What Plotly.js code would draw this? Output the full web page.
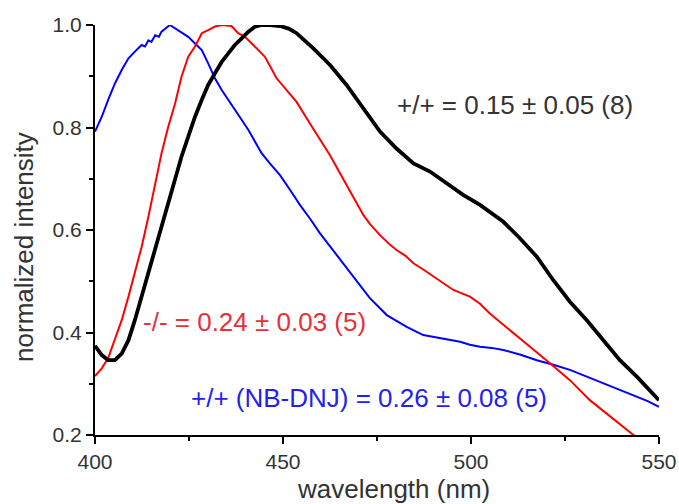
<!DOCTYPE html>
<html>
<head>
<meta charset="utf-8">
<script src="https://cdn.plot.ly/plotly-3.0.1.min.js"></script>
<style>html,body{margin:0;padding:0;background:#fff;}#chart{width:679px;height:504px;}</style>
</head>
<body>
<div id="chart"></div>
<script>
// +/+ (black)
const wtX = [400, 401.8, 403.5, 405.3, 407.1, 408.9, 410.6, 412.4, 414.2, 416, 417.7, 419.5, 421.3, 423, 424.8, 426.6, 428.4, 430.1, 431.9, 433.7, 435.5, 437.2, 439, 440.8, 442.6, 444.3, 446.5, 449.2, 451.5, 453.6, 458, 462.5, 466.9, 471.4, 475.8, 480.2, 484.7, 489.1, 493.5, 498, 502.4, 504.2, 508.6, 513, 517.5, 521.9, 526.3, 530.8, 535.2, 539.6, 544.1, 550];
const wtY = [0.374, 0.356, 0.346, 0.346, 0.359, 0.385, 0.424, 0.470, 0.515, 0.561, 0.606, 0.652, 0.698, 0.743, 0.782, 0.821, 0.854, 0.883, 0.906, 0.928, 0.945, 0.961, 0.974, 0.987, 0.997, 1.0, 1.0, 0.998, 0.993, 0.984, 0.955, 0.922, 0.883, 0.837, 0.792, 0.759, 0.730, 0.714, 0.691, 0.668, 0.649, 0.639, 0.616, 0.584, 0.548, 0.502, 0.460, 0.424, 0.385, 0.346, 0.314, 0.268];

// -/- (red)
const koX = [400, 401.8, 403.5, 405.3, 407.1, 408.9, 410.6, 412.4, 414.2, 416, 417.7, 419.5, 421.3, 423, 424.8, 426.6, 428.4, 430.1, 431.9, 433.7, 436.3, 438.1, 439.9, 441.7, 443.4, 445.2, 448.3, 451, 453.6, 458, 462.5, 466.9, 471.4, 473.1, 475.8, 478.5, 480.2, 482.5, 484.7, 487.5, 490, 492.5, 495.3, 499.7, 502.4, 505, 510.4, 515.7, 521, 526.3, 531.6, 537, 543.2, 545];
const koY = [0.315, 0.330, 0.350, 0.385, 0.424, 0.470, 0.515, 0.567, 0.626, 0.691, 0.750, 0.802, 0.847, 0.899, 0.938, 0.958, 0.984, 0.990, 0.997, 1.0, 0.998, 0.984, 0.977, 0.964, 0.951, 0.938, 0.896, 0.872, 0.850, 0.798, 0.746, 0.688, 0.629, 0.612, 0.590, 0.571, 0.561, 0.550, 0.535, 0.522, 0.509, 0.497, 0.483, 0.470, 0.456, 0.437, 0.405, 0.372, 0.340, 0.307, 0.268, 0.236, 0.200, 0.192];

// +/+ (NB-DNJ) (blue)
const nbX = [400, 401.8, 403.5, 405.3, 407.1, 408.9, 410.6, 412.4, 413.3, 414.2, 415, 416, 417, 417.7, 419.9, 422.2, 424.8, 426.6, 428.4, 430.1, 431.9, 433.7, 435.5, 437.2, 439, 440.8, 442.6, 444.3, 446.5, 449.2, 451.9, 454.5, 457.2, 459.8, 464.3, 468.7, 473.1, 477.6, 482.9, 487.3, 491.8, 494.5, 497.1, 499.7, 502.4, 505.5, 508.6, 513, 517.5, 521.9, 526.3, 530.8, 535.2, 539.6, 544.1, 547, 550];
const nbY = [0.792, 0.821, 0.854, 0.886, 0.912, 0.935, 0.948, 0.961, 0.958, 0.970, 0.967, 0.980, 0.977, 0.987, 1.0, 0.990, 0.977, 0.964, 0.951, 0.925, 0.896, 0.873, 0.854, 0.834, 0.815, 0.795, 0.772, 0.750, 0.730, 0.707, 0.678, 0.649, 0.622, 0.594, 0.551, 0.508, 0.467, 0.434, 0.411, 0.395, 0.389, 0.386, 0.382, 0.376, 0.372, 0.370, 0.366, 0.357, 0.346, 0.337, 0.327, 0.314, 0.301, 0.288, 0.275, 0.266, 0.255];

const labels = ['+/+ = 0.15 ± 0.05 (8)', '-/- = 0.24 ± 0.03 (5)', '+/+ (NB-DNJ) = 0.26 ± 0.08 (5)'];
const xTitle = 'wavelength (nm)';
const yTitle = 'normalized intensity';

const font = 'Liberation Sans, Arial, sans-serif';

const traces = [
  {x: nbX, y: nbY, mode: 'lines', line: {color: '#0000ff', width: 2}, hoverinfo: 'skip'},
  {x: koX, y: koY, mode: 'lines', line: {color: '#ff0000', width: 2}, hoverinfo: 'skip'},
  {x: wtX, y: wtY, mode: 'lines', line: {color: '#000000', width: 3.8}, hoverinfo: 'skip'}
];

const layout = {
  width: 679, height: 504,
  margin: {l: 95, r: 20, t: 25, b: 69},
  paper_bgcolor: '#ffffff', plot_bgcolor: '#ffffff',
  showlegend: false,
  font: {family: font, color: '#333333', size: 21},
  xaxis: {
    range: [400, 550], dtick: 50, tick0: 400,
    showgrid: false, zeroline: false,
    showline: true, linecolor: '#000', linewidth: 2,
    ticks: 'outside', ticklen: 7, tickwidth: 2, tickcolor: '#000',
    minor: {dtick: 25, ticks: 'outside', ticklen: 4, tickwidth: 2, tickcolor: '#000', showgrid: false},
    tickfont: {family: font, size: 21, color: '#333'}
  },
  yaxis: {
    range: [0.2, 1.0], dtick: 0.2, tick0: 0.2, tickformat: '.1f',
    showgrid: false, zeroline: false,
    showline: true, linecolor: '#000', linewidth: 2,
    ticks: 'outside', ticklen: 7, tickwidth: 2, tickcolor: '#000',
    minor: {dtick: 0.1, ticks: 'outside', ticklen: 4, tickwidth: 2, tickcolor: '#000', showgrid: false},
    tickfont: {family: font, size: 21, color: '#333'}
  },
  annotations: [
    {x: 479.8, y: 0.844, xref: 'x', yref: 'y', text: labels[0], showarrow: false, xanchor: 'left', yanchor: 'middle', font: {family: font, size: 26, color: '#333333'}},
    {x: 412.2, y: 0.421, xref: 'x', yref: 'y', text: labels[1], showarrow: false, xanchor: 'left', yanchor: 'middle', font: {family: font, size: 26, color: '#e8303a'}},
    {x: 425.1, y: 0.273, xref: 'x', yref: 'y', text: labels[2], showarrow: false, xanchor: 'left', yanchor: 'middle', font: {family: font, size: 26, color: '#2222ee'}},
    {x: 0.530, y: -0.132, xref: 'paper', yref: 'paper', text: xTitle, showarrow: false, xanchor: 'center', yanchor: 'middle', font: {family: font, size: 26, color: '#333333'}},
    {x: -0.126, y: 0.4585, xref: 'paper', yref: 'paper', text: yTitle, textangle: -90, showarrow: false, xanchor: 'center', yanchor: 'middle', font: {family: font, size: 26, color: '#333333'}}
  ]
};

Plotly.newPlot('chart', traces, layout, {staticPlot: true, displayModeBar: false});
</script>
</body>
</html>
